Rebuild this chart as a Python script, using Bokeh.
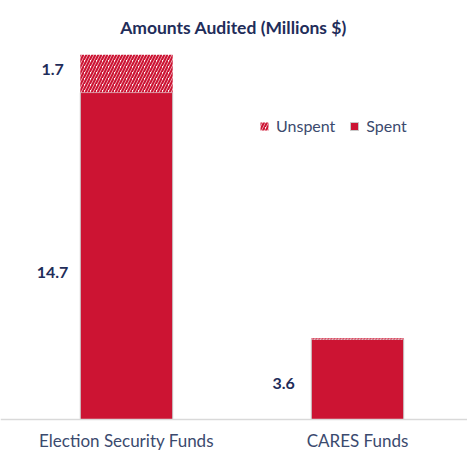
from bokeh.plotting import figure
from bokeh.models import ColumnDataSource, Legend, LegendItem, Range1d, Span, Label
from bokeh.embed import file_html
from bokeh.resources import INLINE
from bokeh.core.properties import value

title = "Amounts Audited (Millions $)"
categories = ["Election Security Funds", "CARES Funds"]
spent = [14.7, 3.6]
unspent = [1.7, 0.05]
spent_labels = ["14.7", "3.6"]
unspent_labels = ["1.7", ""]

RED = "#CC1433"
NAVY = "#1F2D5A"
TXT = "#3B4A6E"
FONT = "Lato"

W, H = 467, 451
PPX = 231.0      # pixels per category step
PPY = 22.24      # pixels per million
BASE = 419       # baseline, px from top
x_start = -126 / PPX
x_end = x_start + W / PPX
y_end = BASE / PPY
y_start = -(H - BASE) / PPY

xs = list(range(len(categories)))
src = ColumnDataSource(dict(
    x=xs, spent=spent, total=[s + u for s, u in zip(spent, unspent)],
    lx=[x - 0.32 for x in xs],
    sy=[s * 0.45 for s in spent],
    uy=[s + u * 0.62 for s, u in zip(spent, unspent)],
    slab=spent_labels, ulab=unspent_labels,
    cy=[-(440 - BASE) / PPY] * len(xs), cat=categories,
))

p = figure(width=W, height=H, output_backend="svg", toolbar_location=None,
           x_range=Range1d(x_start, x_end), y_range=Range1d(y_start, y_end),
           x_axis_location=None, y_axis_location=None,
           min_border_left=0, min_border_right=0, min_border_top=0, min_border_bottom=0)
p.outline_line_color = None
p.xgrid.visible = False
p.ygrid.visible = False

p.add_layout(Span(location=0, dimension="width", line_color="#D9D9D9", line_width=1.5))

r_spent = p.vbar(x="x", width=0.4, bottom=0, top="spent", source=src,
                 fill_color=RED, line_color="#C8C8C8", line_width=1)
r_unspent = p.vbar(x="x", width=0.4, bottom="spent", top="total", source=src,
                   fill_color="white", line_color=None,
                   hatch_pattern="/", hatch_color=RED, hatch_scale=6, hatch_weight=2.2)

p.text(x="lx", y="sy", text="slab", source=src, text_align="center", text_baseline="middle",
       text_font=value(FONT), text_font_style="bold", text_font_size="16px", text_color=NAVY)
p.text(x="lx", y="uy", text="ulab", source=src, text_align="center", text_baseline="middle",
       text_font=value(FONT), text_font_style="bold", text_font_size="16px", text_color=NAVY)
p.text(x="x", y="cy", text="cat", source=src, text_align="center", text_baseline="alphabetic",
       text_font=value(FONT), text_font_size="17px", text_color=TXT)

p.add_layout(Label(x=x_start + 233 / PPX, y=y_end - 27 / PPY, text=title,
                   text_align="center", text_baseline="alphabetic",
                   text_font=FONT, text_font_size="17.5px", text_font_style="bold",
                   text_color=NAVY))

legend = Legend(items=[LegendItem(label="Unspent", renderers=[r_unspent]),
                       LegendItem(label="Spent", renderers=[r_spent])],
                location=(259, 316), orientation="horizontal",
                padding=0, margin=0, spacing=14, glyph_width=10, glyph_height=10,
                label_standoff=7, label_text_font=FONT, label_text_font_size="16px",
                label_text_color=TXT, background_fill_alpha=0, border_line_color=None,
                label_height=18)
p.add_layout(legend)

open("out.html", "w").write(file_html(p, INLINE))
